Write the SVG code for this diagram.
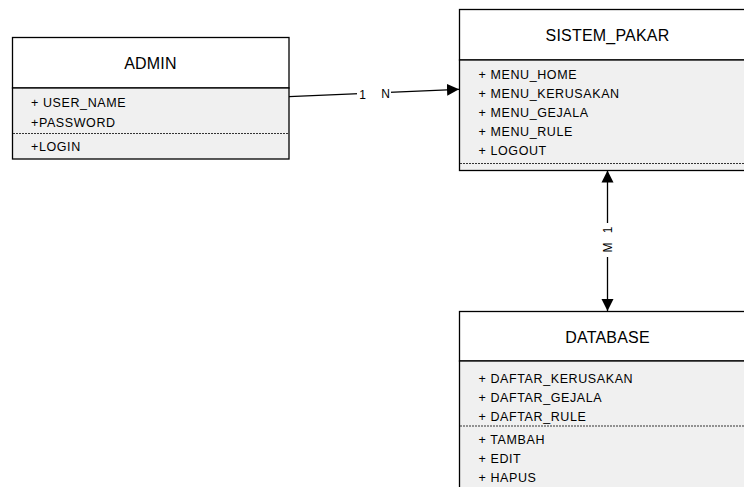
<svg xmlns="http://www.w3.org/2000/svg" width="744" height="487" viewBox="0 0 744 487">
<style>
.box{fill:#ffffff;stroke:#000;stroke-width:1.3}
.body{fill:#f0f0f0;stroke:#000;stroke-width:1.3}
.dash{stroke:#333;stroke-width:1;stroke-dasharray:2,1;fill:none}
.title{font-family:"Liberation Sans",Arial,sans-serif;font-size:16px;fill:#000;text-anchor:middle;letter-spacing:0.2px}
.item{font-family:"Liberation Sans",Arial,sans-serif;font-size:12.5px;fill:#000;letter-spacing:0.6px}
.conn{stroke:#000;stroke-width:1.3;fill:none}
.lbl{font-family:"Liberation Sans",Arial,sans-serif;font-size:12px;fill:#000;text-anchor:middle}
</style>
<defs>
<marker id="arr" markerUnits="userSpaceOnUse" markerWidth="13" markerHeight="13" refX="12" refY="6.5" orient="auto-start-reverse" viewBox="0 0 13 13">
<path d="M0,0.5 L12,6.5 L0,12.5 z" fill="#000"/>
</marker>
</defs>
<rect width="744" height="487" fill="#fff"/>

<g id="admin">
<rect class="box" x="12.5" y="37.5" width="276.5" height="50.5"/>
<rect class="body" x="12.5" y="88" width="276.5" height="71"/>
<line class="dash" x1="13" y1="133.5" x2="288.5" y2="133.5"/>
<text class="title" x="150.5" y="68.5">ADMIN</text>
<text class="item" x="31" y="107">+ USER_NAME</text>
<text class="item" x="31" y="126.5">+PASSWORD</text>
<text class="item" x="31" y="150.5">+LOGIN</text>
</g>

<g id="sistem_pakar">
<rect class="box" x="459.5" y="9.5" width="300" height="50.5"/>
<rect class="body" x="459.5" y="60" width="300" height="110.5"/>
<line class="dash" x1="460" y1="163.5" x2="744" y2="163.5"/>
<text class="title" x="607.5" y="41">SISTEM_PAKAR</text>
<text class="item" x="478.5" y="78.5">+ MENU_HOME</text>
<text class="item" x="478.5" y="97.7">+ MENU_KERUSAKAN</text>
<text class="item" x="478.5" y="116.9">+ MENU_GEJALA</text>
<text class="item" x="478.5" y="136.1">+ MENU_RULE</text>
<text class="item" x="478.5" y="155.3">+ LOGOUT</text>
</g>

<g id="database">
<rect class="box" x="459.5" y="311.5" width="300" height="49.5"/>
<rect class="body" x="459.5" y="361" width="300" height="140"/>
<line class="dash" x1="460" y1="426" x2="744" y2="426"/>
<text class="title" x="607.5" y="343">DATABASE</text>
<text class="item" x="478.5" y="382.5">+ DAFTAR_KERUSAKAN</text>
<text class="item" x="478.5" y="401.5">+ DAFTAR_GEJALA</text>
<text class="item" x="478.5" y="420.5">+ DAFTAR_RULE</text>
<text class="item" x="478.5" y="444">+ TAMBAH</text>
<text class="item" x="478.5" y="463">+ EDIT</text>
<text class="item" x="478.5" y="482">+ HAPUS</text>
</g>

<g id="connectors">
<path class="conn" d="M289,96.7 L459,89.3" marker-end="url(#arr)"/>
<rect x="357" y="86" width="34" height="14" fill="#fff"/>
<text class="lbl" x="362.5" y="98.5">1</text>
<text class="lbl" x="385.5" y="98">N</text>
<path class="conn" d="M607.5,170.5 L607.5,311" marker-start="url(#arr)" marker-end="url(#arr)"/>
<rect x="600.5" y="223" width="14" height="34" fill="#fff"/>
<text class="lbl" transform="translate(611.5,230) rotate(-90)">1</text>
<text class="lbl" transform="translate(611.5,247.5) rotate(-90)">M</text>
</g>
</svg>
